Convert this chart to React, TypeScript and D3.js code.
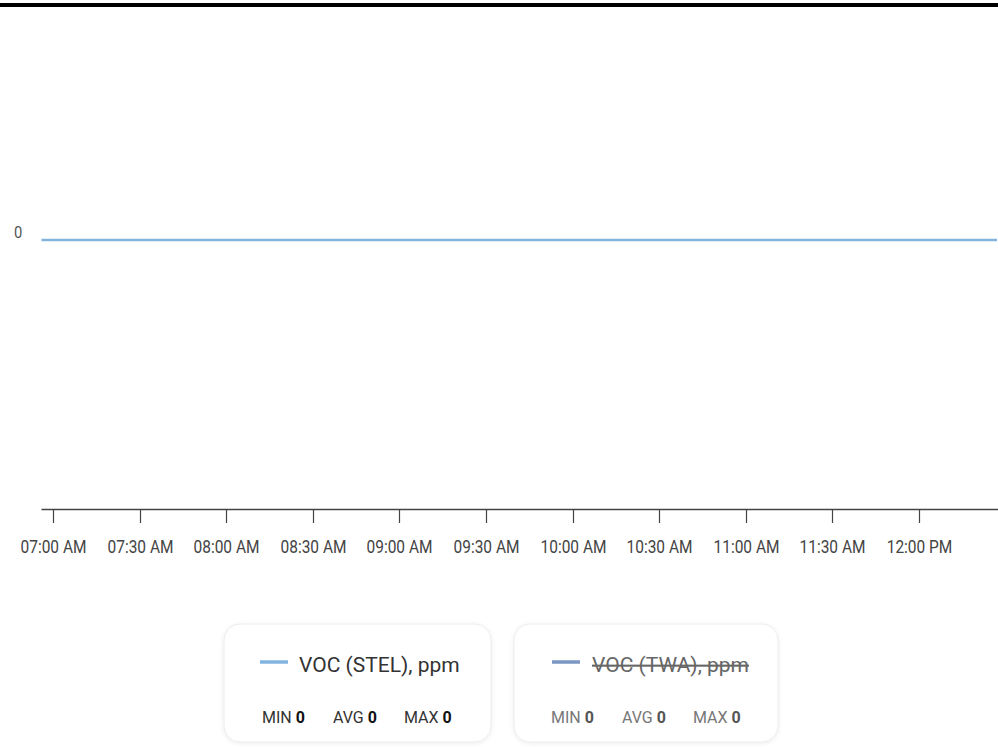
import React from "react";
import * as d3 from "d3";

const times: string[] = ["06:56", "07:30", "08:00", "08:30", "09:00", "09:30", "10:00", "10:30", "11:00", "11:30", "12:00", "12:27"];
const stelValues: number[] = [0, 0, 0, 0, 0, 0, 0, 0, 0, 0, 0, 0];
const twaValues: number[] = [0, 0, 0, 0, 0, 0, 0, 0, 0, 0, 0, 0];
const tickTimes: string[] = ["07:00", "07:30", "08:00", "08:30", "09:00", "09:30", "10:00", "10:30", "11:00", "11:30", "12:00"];
const yTicks: number[] = [0];
const seriesNames: string[] = ["VOC (STEL), ppm", "VOC (TWA), ppm"];
const seriesHidden: boolean[] = [false, true];
const statLabels: string[] = ["MIN", "AVG", "MAX"];

const W = 998;
const H = 747;
const FONT = "Roboto, 'Noto Sans', sans-serif";

const parse = (s: string) => {
  const [h, m] = s.split(":").map(Number);
  return new Date(2024, 0, 1, h, m, 0);
};

export default function App() {
  const x = d3
    .scaleTime()
    .domain([parse("07:00"), parse("12:00")])
    .range([53, 919]);
  const xStart = parse(times[0]);
  const xEnd = parse(times[times.length - 1]);
  const y = d3.scaleLinear().domain([-1, 1]).range([509, -29]);

  const lineGen = d3
    .line<[Date, number]>()
    .x((d) => x(d[0]))
    .y((d) => y(d[1]));
  const stelPts: [Date, number][] = times.map((t, i) => [parse(t), stelValues[i]]);
  const fmt = d3.timeFormat("%I:%M %p");

  const stats = [stelValues, twaValues].map((v) => [d3.min(v) ?? 0, d3.mean(v) ?? 0, d3.max(v) ?? 0]);
  const colors = ["#83b4e0", "#7b97c2"];

  const boxes = [
    { x: 224, w: 267, lx: 36, tx: 75, sx: 38 },
    { x: 514, w: 264, lx: 38, tx: 78, sx: 37 },
  ];

  return (
    <div style={{ position: "absolute", left: 0, top: 0, width: W, height: H, overflow: "hidden", background: "#fff" }}>
      <svg width={W} height={H} style={{ display: "block" }}>
        <defs>
          <filter id="sh" x="-10%" y="-10%" width="120%" height="130%">
            <feDropShadow dx="0" dy="1" stdDeviation="2" floodColor="#000" floodOpacity="0.08" />
          </filter>
        </defs>
        <rect x={0} y={3} width={W} height={4} fill="#000" />

        {yTicks.map((t) => (
          <text
            key={t}
            transform={`translate(14,${y(t) - 2}) scale(0.87,1)`}
            fontFamily={FONT}
            fontSize={17}
            fill="#555"
          >
            {t}
          </text>
        ))}

        <path
          d={lineGen([[xStart, stelPts[0][1]], ...stelPts.slice(1, -1), [xEnd, stelPts[stelPts.length - 1][1]]]) ?? ""}
          fill="none"
          stroke={colors[0]}
          strokeWidth={2.5}
        />

        <line x1={x(xStart)} x2={W} y1={509.5} y2={509.5} stroke="#444" strokeWidth={1.3} />
        {tickTimes.map((t) => {
          const tx = Math.round(x(parse(t))) + 0.5;
          return (
            <g key={t}>
              <line x1={tx} x2={tx} y1={509} y2={523} stroke="#444" strokeWidth={1.2} />
              <text
                transform={`translate(${tx},553) scale(0.86,1)`}
                textAnchor="middle"
                fontFamily={FONT}
                fontSize={18}
                fill="#444"
              >
                {fmt(parse(t))}
              </text>
            </g>
          );
        })}

        {boxes.map((b, i) => {
          const hidden = seriesHidden[i];
          const txtColor = hidden ? "#666" : "#333";
          const statColor = hidden ? "#777" : "#333";
          return (
            <g key={i}>
              <rect x={b.x} y={624} width={b.w} height={118} rx={16} fill="#fff" stroke="#ececec" filter="url(#sh)" />
              <line x1={b.x + b.lx} x2={b.x + b.lx + 28} y1={662} y2={662} stroke={colors[i]} strokeWidth={3.5} />
              <text
                x={b.x + b.tx}
                y={672}
                fontFamily={FONT}
                fontSize={21}
                fill={txtColor}
                textDecoration={hidden ? "line-through" : undefined}
              >
                {seriesNames[i]}
              </text>
              {statLabels.map((s, j) => (
                <text
                  key={s}
                  x={b.x + b.sx + j * 71}
                  y={723}
                  fontFamily={FONT}
                  fontSize={16}
                  fill={statColor}
                >
                  {s}{" "}
                  <tspan fontWeight="bold" fill={hidden ? "#555" : "#111"}>
                    {d3.format("~r")(stats[i][j])}
                  </tspan>
                </text>
              ))}
            </g>
          );
        })}
      </svg>
    </div>
  );
}
